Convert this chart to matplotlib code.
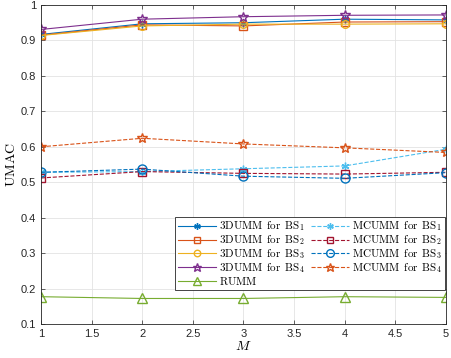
import matplotlib
matplotlib.use("Agg")
import matplotlib.pyplot as plt

plt.rcParams['mathtext.fontset'] = 'cm'
plt.rcParams['font.family'] = ['Liberation Sans', 'DejaVu Sans']

M = [1, 2, 3, 4, 5]
d3_bs1 = [0.917, 0.947, 0.950, 0.960, 0.958]
d3_bs2 = [0.915, 0.944, 0.941, 0.952, 0.953]
d3_bs3 = [0.914, 0.941, 0.946, 0.946, 0.947]
d3_bs4 = [0.931, 0.960, 0.967, 0.971, 0.972]
rumm = [0.177, 0.172, 0.172, 0.177, 0.175]
mc_bs1 = [0.528, 0.530, 0.538, 0.546, 0.593]
mc_bs2 = [0.512, 0.530, 0.525, 0.523, 0.528]
mc_bs3 = [0.528, 0.537, 0.517, 0.511, 0.527]
mc_bs4 = [0.600, 0.624, 0.608, 0.597, 0.584]

xticks = [1, 1.5, 2, 2.5, 3, 3.5, 4, 4.5, 5]
yticks = [0.1, 0.2, 0.3, 0.4, 0.5, 0.6, 0.7, 0.8, 0.9, 1.0]
ytick_labels = ['0.1', '0.2', '0.3', '0.4', '0.5', '0.6', '0.7', '0.8', '0.9', '1']

blue = '#0072BD'; orange = '#D95319'; yellow = '#EDB120'; purple = '#7E2F8E'
green = '#77AC30'; lblue = '#4DBEEE'; dred = '#A2142F'

fig = plt.figure(figsize=(4.52, 3.58), dpi=100)
ax = fig.add_axes([0.0907, 0.095, 0.896, 0.891])

ast = (6, 2, 0)
lw = 0.8
ms = 5.5
def lab(name, bs=None):
    if bs is None:
        return r'$\mathrm{%s}$' % name
    return r'$\mathrm{%s\ \,for\ \,BS}_{%d}$' % (name, bs)

h = {}
h['d1'], = ax.plot(M, d3_bs1, '-', color=blue, marker=ast, ms=ms, lw=lw, label=lab('3DUMM', 1))
h['d2'], = ax.plot(M, d3_bs2, '-', color=orange, marker='s', mfc='none', ms=ms, lw=lw, label=lab('3DUMM', 2))
h['d3'], = ax.plot(M, d3_bs3, '-', color=yellow, marker='o', mfc='none', ms=ms, lw=lw, label=lab('3DUMM', 3))
h['d4'], = ax.plot(M, d3_bs4, '-', color=purple, marker='*', mfc='none', ms=ms+2, lw=lw, label=lab('3DUMM', 4))
h['r'], = ax.plot(M, rumm, '-', color=green, marker='^', mfc='none', ms=ms+1, lw=lw, label=lab('RUMM'))
h['m1'], = ax.plot(M, mc_bs1, '--', color=lblue, marker=ast, ms=ms, lw=lw, label=lab('MCUMM', 1))
h['m2'], = ax.plot(M, mc_bs2, '--', color=dred, marker='s', mfc='none', ms=ms, lw=lw, label=lab('MCUMM', 2))
h['m3'], = ax.plot(M, mc_bs3, '--', color=blue, marker='o', mfc='none', ms=ms+1, lw=lw, label=lab('MCUMM', 3))
h['m4'], = ax.plot(M, mc_bs4, '--', color=orange, marker='*', mfc='none', ms=ms+2, lw=lw, label=lab('MCUMM', 4))

ax.set_xlim(1, 5)
ax.set_ylim(0.1, 1.0)
ax.set_xticks(xticks)
ax.set_xticklabels(['1', '1.5', '2', '2.5', '3', '3.5', '4', '4.5', '5'])
ax.set_yticks(yticks)
ax.set_yticklabels(ytick_labels)
ax.tick_params(direction='in', labelsize=8, colors='#262626', length=3, width=0.5, top=True, right=True)
ax.grid(True, color='#e3e3e3', lw=0.6)
ax.set_axisbelow(True)
for s in ax.spines.values():
    s.set_color('#262626'); s.set_linewidth(0.6)

ax.set_xlabel(r'$M$', fontsize=10, labelpad=0)
ax.set_ylabel(r'$\mathrm{UMAC}$', fontsize=10, labelpad=2)

order = ['d1', 'd2', 'd3', 'd4', 'r', 'm1', 'm2', 'm3', 'm4']
leg = ax.legend([h[k] for k in order], [h[k].get_label() for k in order], ncol=2,
                loc='lower right', bbox_to_anchor=(0.997, 0.107), fontsize=8,
                frameon=True, fancybox=False, edgecolor='#262626', framealpha=1,
                handlelength=3.4, columnspacing=0.5, handletextpad=0.3,
                labelspacing=0.0, borderpad=0.25, borderaxespad=0.0, markerscale=0.85)
leg.get_frame().set_linewidth(0.6)

fig.savefig('out.png', dpi=100)
